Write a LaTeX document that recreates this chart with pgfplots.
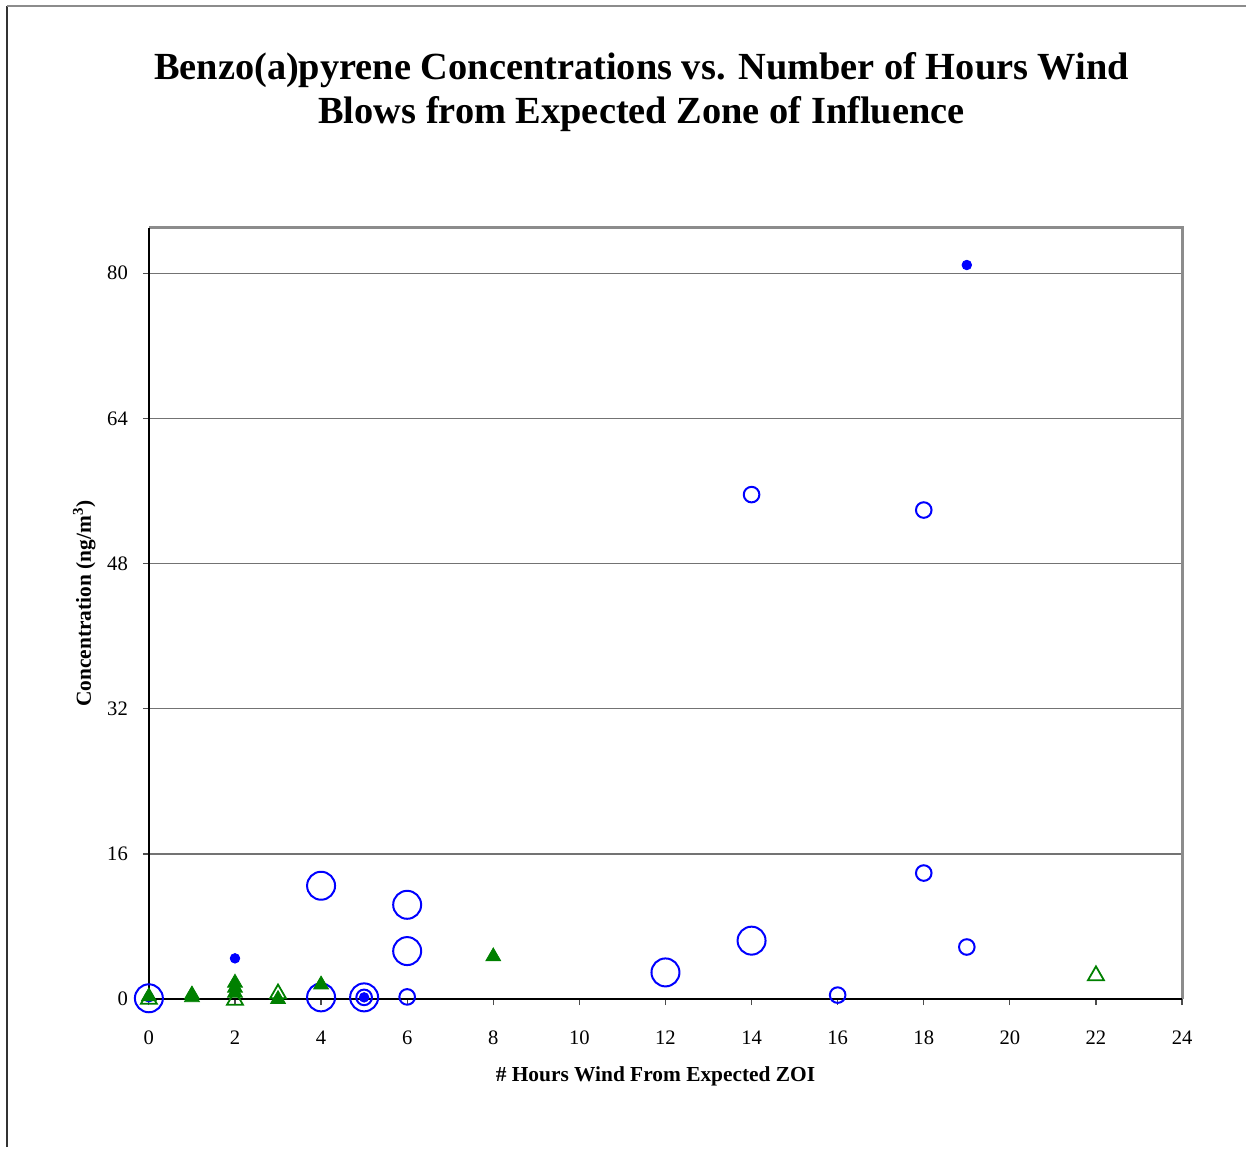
\documentclass[border=0pt]{standalone}
\usepackage{pgfplots}
\pgfplotsset{compat=1.18}
\usepackage{fontspec}
\setmainfont{Liberation Serif}
\definecolor{xlblue}{RGB}{0,0,255}
\definecolor{xlgreen}{RGB}{0,128,0}
\begin{document}
\begin{tikzpicture}
\path (0,0) rectangle (623.5pt,574pt);
\draw[black!80, line width=1pt] (3.5pt,0) -- (3.5pt,571pt);
\draw[black!45, line width=1pt] (3.5pt,571pt) -- (623.5pt,571pt);
\node[font=\bfseries\fontsize{19.2}{22}\selectfont, align=center] at (321pt,528pt)
  {Benzo(a)pyrene Concentrations vs. Number of Hours Wind\\Blows from Expected Zone of Influence};
\begin{axis}[
  at={(74.5pt,74pt)}, anchor=south west,
  scale only axis, width=517pt, height=386pt,
  xmin=0, xmax=24, ymin=0, ymax=85,
  xtick={0,2,...,24}, ytick={0,16,32,48,64,80},
  axis line style={draw=none},
  tick align=outside, xtick pos=bottom, ytick pos=left,
  major tick length=3pt,
  tick style={black!70, line width=0.6pt},
  ymajorgrids, grid style={black!55, line width=0.6pt},
  clip=false,
  /pgf/number format/assume math mode=true,
  ticklabel style={font=\fontsize{10.3}{12}\selectfont},
  xticklabel style={yshift=-9.5pt},
  yticklabel style={xshift=-4pt},
  xlabel={\bfseries \# Hours Wind From Expected ZOI},
  ylabel={\bfseries Concentration (ng/m\textsuperscript{3})},
  label style={font=\fontsize{10.7}{12}\selectfont},
  xlabel style={yshift=-4pt, xshift=-5pt},
  ylabel style={yshift=-1pt, xshift=5pt},
]
\draw[black!45, line width=1.5pt] (rel axis cs:0,1) -- (rel axis cs:1,1) -- (rel axis cs:1,0);
\draw[black, line width=1pt] (rel axis cs:0,1) -- (rel axis cs:0,0) -- (rel axis cs:1,0.0);
% large open circles
\addplot[only marks, mark=o, mark size=7pt, xlblue, mark options={line width=1pt}]
 coordinates {(0,0.1) (4,12.5) (4,0.2) (5,0.2) (6,10.4) (6,5.3) (12,2.95) (14,6.45)};
% small open circles
\addplot[only marks, mark=o, mark size=3.9pt, xlblue, mark options={line width=1pt}]
 coordinates {(5,0.2) (6,0.25) (14,55.6) (16,0.45) (18,53.9) (18,13.9) (19,5.75)};
% filled dots
\addplot[only marks, mark=*, mark size=2.4pt, xlblue, mark options={fill=xlblue, draw=xlblue}]
 coordinates {(0,0.2) (2,4.5) (5,0.2) (19,80.9)};
% filled triangles
\addplot[only marks, mark=triangle*, mark size=4.3pt, xlgreen, mark options={fill=xlgreen, draw=xlgreen}]
 coordinates {(0,0.3) (1,0.2) (1,0.5) (2,0.7) (2,1.25) (2,1.8) (3,0.0) (4,1.6) (8,4.7)};
% open triangles
\addplot[only marks, mark=triangle, mark size=4.6pt, xlgreen, mark options={line width=0.9pt}]
 coordinates {(0,0.0) (2,-0.1) (3,0.6) (22,2.6)};
\end{axis}
\end{tikzpicture}
\end{document}
